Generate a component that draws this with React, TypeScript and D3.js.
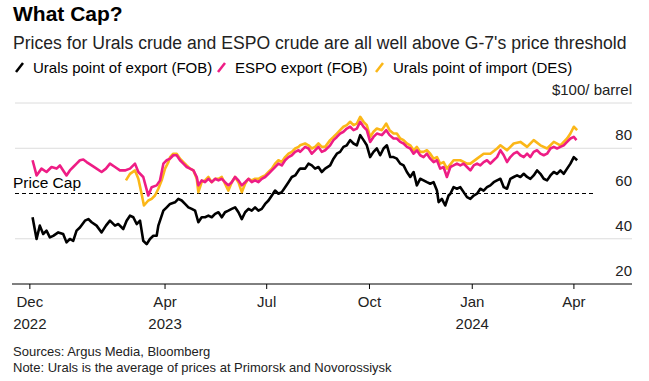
import React from "react";
import * as d3 from "d3";

// Days since 2022-12-01, price in $/barrel
const BASE_DATE = new Date(2022, 11, 1);

const uralsFOB: [number, number][] = [
  [2.4, 49.5], [6.0, 39.9], [8.9, 45.8], [11.9, 42.1], [14.9, 43.6], [17.9, 40.6], [20.9, 41.3],
  [25.4, 42.8], [29.8, 42.1], [32.8, 38.4], [35.8, 39.9], [38.8, 39.1], [41.8, 43.6], [44.8, 45.0],
  [49.3, 48.0], [52.3, 48.7], [55.3, 47.3], [59.7, 45.8], [64.2, 42.8], [68.1, 45.8], [71.7, 48.0],
  [76.2, 45.8], [79.2, 46.5], [83.6, 44.3], [86.6, 48.0], [89.6, 50.2], [92.6, 49.5], [95.6, 46.5],
  [98.6, 48.0], [101.5, 39.1], [104.5, 37.6], [107.5, 39.9], [110.5, 41.3], [113.5, 41.3], [115.0, 45.8],
  [119.5, 52.4], [122.5, 53.9], [125.5, 55.4], [129.9, 56.1], [132.9, 57.6], [135.9, 56.9],
  [138.9, 55.4], [141.9, 53.9], [144.9, 53.2], [147.9, 52.4], [150.8, 47.3], [153.8, 49.5], [156.8, 49.5],
  [159.8, 50.2], [162.8, 49.5], [165.8, 51.0], [168.8, 51.7], [171.8, 49.5], [174.7, 51.7], [177.7, 52.4],
  [180.7, 53.2], [183.7, 53.9], [186.7, 51.7], [189.7, 48.7], [192.7, 51.7], [195.7, 53.2], [198.6, 52.4],
  [201.6, 53.9], [204.6, 52.4], [207.6, 53.2], [210.6, 55.4], [213.6, 56.9], [216.6, 59.1], [219.5, 61.3],
  [222.5, 59.9], [225.5, 60.6], [228.5, 62.8], [231.5, 65.0], [234.5, 67.3], [237.5, 68.0], [240.5, 70.2],
  [241.9, 71.0], [246.4, 71.0], [249.4, 73.2], [252.4, 72.4], [255.3, 71.0], [258.3, 71.7], [261.3, 69.5],
  [264.3, 71.0], [268.8, 72.4], [271.8, 75.4], [274.8, 77.6], [277.7, 78.4], [280.7, 80.6], [283.7, 81.3],
  [286.7, 83.6], [289.7, 82.1], [292.7, 81.3], [295.7, 85.8], [298.7, 83.6], [301.6, 81.3], [304.6, 76.1],
  [307.6, 78.4], [310.6, 79.9], [313.6, 76.9], [316.6, 79.9], [319.6, 81.3], [322.6, 76.1], [325.5, 76.1],
  [328.5, 75.4], [331.5, 73.2], [334.5, 72.4], [337.5, 69.5], [340.5, 67.3], [343.5, 69.5], [346.4, 63.6],
  [349.4, 66.5], [352.4, 65.8], [355.4, 65.0], [358.4, 64.3], [361.4, 65.0], [364.4, 61.3], [365.9, 56.2],
  [368.8, 57.6], [371.8, 54.7], [374.8, 59.1], [376.4, 59.9], [379.3, 62.8], [382.3, 62.1], [385.3, 62.8],
  [388.3, 60.6], [391.3, 58.4], [394.3, 57.6], [397.3, 59.1], [400.3, 59.9], [403.2, 62.1], [406.2, 61.3],
  [409.2, 62.8], [412.2, 63.6], [415.2, 65.0], [418.2, 65.8], [421.2, 66.5], [424.2, 62.8], [427.1, 62.1],
  [430.1, 66.5], [433.1, 67.3], [436.1, 68.0], [439.1, 67.3], [442.1, 68.7], [445.1, 67.3], [448.0, 66.5],
  [451.0, 68.0], [454.0, 70.2], [457.0, 68.7], [460.0, 66.5], [463.0, 65.8], [466.0, 68.0], [469.0, 69.5],
  [471.9, 68.7], [474.9, 70.2], [477.9, 68.7], [480.9, 71.0], [483.9, 73.2], [486.9, 76.1], [489.9, 74.7],
];

const espoFOB: [number, number][] = [
  [2.4, 74.7], [6.0, 68.0], [10.4, 71.0], [14.9, 69.5], [19.4, 71.7], [23.9, 71.0], [26.9, 72.4],
  [29.8, 70.2], [32.8, 68.0], [35.8, 70.2], [38.8, 71.7], [41.8, 73.2], [44.8, 74.7], [47.8, 75.0],
  [50.8, 73.9], [55.3, 72.4], [59.7, 71.0], [64.2, 69.5], [68.1, 71.0], [71.7, 73.2], [76.2, 71.7],
  [80.6, 70.2], [85.1, 70.2], [89.6, 71.0], [94.1, 73.2], [97.1, 69.5], [101.5, 67.3], [106.0, 59.1],
  [109.0, 62.8], [113.5, 63.6], [116.5, 65.8], [119.5, 73.2], [122.5, 74.7], [125.5, 75.4], [128.4, 76.9],
  [131.4, 76.9], [134.4, 74.7], [137.4, 73.2], [140.4, 71.7], [143.4, 71.0], [146.4, 70.2], [149.4, 67.3],
  [150.8, 63.6], [153.8, 65.8], [156.8, 65.0], [159.8, 66.5], [162.8, 65.0], [165.8, 66.5], [168.8, 65.8],
  [171.8, 66.5], [174.7, 65.0], [177.7, 63.6], [180.7, 65.0], [183.7, 67.3], [186.7, 65.8], [189.7, 63.6],
  [192.7, 65.0], [195.7, 66.5], [198.6, 65.0], [201.6, 65.8], [204.6, 65.0], [207.6, 66.5], [210.6, 67.3],
  [213.6, 68.7], [216.6, 70.2], [219.5, 71.7], [222.5, 73.2], [225.5, 72.4], [228.5, 74.7], [231.5, 76.1],
  [234.5, 76.9], [237.5, 78.4], [240.5, 79.1], [241.9, 78.4], [246.4, 80.6], [249.4, 79.9], [252.4, 77.6],
  [255.3, 79.1], [258.3, 80.6], [261.3, 78.4], [264.3, 79.1], [268.8, 81.3], [271.8, 83.6], [274.8, 85.0],
  [277.7, 86.5], [280.7, 87.3], [283.7, 88.7], [286.7, 89.5], [289.7, 88.0], [292.7, 88.7], [295.7, 91.7],
  [298.7, 89.5], [301.6, 88.0], [304.6, 82.8], [307.6, 85.0], [310.6, 86.5], [315.1, 85.8], [319.0, 88.0],
  [322.0, 85.8], [325.5, 84.3], [328.5, 84.3], [331.5, 82.8], [334.5, 82.1], [337.5, 80.6], [340.5, 79.9],
  [343.5, 77.6], [346.4, 79.1], [349.4, 76.9], [352.4, 76.1], [355.4, 77.6], [358.4, 75.4], [361.4, 73.9],
  [364.4, 74.7], [367.3, 71.0], [370.3, 71.7], [373.3, 67.3], [376.4, 71.7], [379.3, 72.4], [382.3, 73.2],
  [385.3, 72.4], [388.3, 73.2], [391.3, 71.7], [394.3, 70.2], [397.3, 72.4], [400.3, 73.2], [403.2, 72.4],
  [406.2, 73.9], [409.2, 74.7], [412.2, 73.2], [415.2, 74.7], [418.2, 76.1], [421.2, 79.1], [424.2, 76.9],
  [427.1, 73.9], [430.1, 76.1], [433.1, 77.6], [436.1, 78.4], [439.1, 76.9], [442.1, 76.1], [445.1, 77.6],
  [448.0, 76.1], [451.0, 78.4], [454.0, 79.1], [457.0, 77.6], [460.0, 76.9], [463.0, 77.6], [466.0, 79.9],
  [469.0, 80.6], [471.9, 79.9], [474.9, 80.6], [477.9, 81.3], [480.9, 82.8], [483.9, 84.3], [486.9, 85.0],
  [489.3, 83.6],
];

const uralsDES: [number, number][] = [
  [86.0, 65.8], [89.6, 68.7], [94.1, 70.2], [97.1, 66.5], [100.0, 59.9], [102.1, 54.7], [106.0, 56.9],
  [109.0, 57.6], [112.0, 59.1], [115.0, 62.1], [118.0, 65.8], [121.0, 71.0], [124.0, 73.9], [125.5, 76.1],
  [128.4, 77.6], [131.4, 77.6], [134.4, 75.4], [137.4, 73.9], [140.4, 72.4], [143.4, 71.0], [146.4, 70.2],
  [149.4, 66.5], [150.8, 60.6], [153.8, 65.0], [156.8, 65.8], [159.8, 67.3], [162.8, 65.0], [165.8, 66.5],
  [168.8, 66.5], [171.8, 67.3], [174.7, 64.3], [177.7, 61.3], [180.7, 65.0], [183.7, 67.3], [186.7, 65.0],
  [189.7, 60.6], [192.7, 64.3], [195.7, 66.5], [198.6, 65.8], [201.6, 66.5], [204.6, 66.5], [207.6, 67.3],
  [210.6, 68.0], [213.6, 69.5], [216.6, 71.0], [219.5, 73.2], [222.5, 74.7], [225.5, 73.9], [228.5, 76.1],
  [231.5, 77.6], [234.5, 78.4], [237.5, 79.9], [240.5, 80.6], [241.9, 81.3], [246.4, 82.1], [249.4, 81.3],
  [252.4, 79.9], [255.3, 80.6], [258.3, 82.1], [261.3, 80.6], [264.3, 80.6], [268.8, 83.6], [271.8, 85.0],
  [274.8, 86.5], [277.7, 88.0], [280.7, 89.5], [283.7, 90.2], [286.7, 91.7], [289.7, 90.2], [292.7, 90.9],
  [295.7, 93.9], [298.7, 91.7], [301.6, 90.2], [304.6, 85.0], [307.6, 87.3], [310.6, 88.7], [315.1, 88.0],
  [319.0, 90.9], [322.0, 88.0], [325.5, 86.5], [328.5, 86.5], [331.5, 84.3], [334.5, 83.6], [337.5, 82.1],
  [340.5, 81.3], [343.5, 79.1], [346.4, 80.6], [349.4, 78.4], [352.4, 78.4], [355.4, 79.1], [358.4, 77.6],
  [361.4, 75.4], [364.4, 76.1], [367.3, 73.2], [370.3, 73.9], [373.4, 71.0], [379.3, 74.7], [385.3, 74.7],
  [391.3, 73.2], [394.3, 73.2], [400.3, 75.4], [406.2, 77.6], [412.2, 77.6], [418.2, 79.9], [421.2, 81.3],
  [427.1, 79.1], [433.1, 82.1], [439.1, 82.8], [445.1, 80.6], [451.0, 83.6], [457.0, 81.3], [463.0, 79.9],
  [469.0, 82.8], [474.9, 81.3], [480.9, 84.3], [483.9, 86.5], [486.9, 89.5], [489.9, 88.0],
];

const PRICE_CAP = 60;
const yTicks = [20, 40, 60, 80];
const yTopLabel = "$100/ barrel";
const xTicks: { date: Date; month: string; year: string }[] = [
  { date: new Date(2022, 11, 1), month: "Dec", year: "2022" },
  { date: new Date(2023, 3, 1), month: "Apr", year: "2023" },
  { date: new Date(2023, 6, 1), month: "Jul", year: "" },
  { date: new Date(2023, 9, 1), month: "Oct", year: "" },
  { date: new Date(2024, 0, 1), month: "Jan", year: "2024" },
  { date: new Date(2024, 3, 1), month: "Apr", year: "" },
];

const seriesNames = ["Urals point of export (FOB)", "ESPO export (FOB)", "Urals point of import (DES)"];
const seriesColors = ["#000000", "#ee1d85", "#fbb718"];

const FONT = "'Liberation Sans', Arial, Helvetica, sans-serif";

export default function App() {
  const W = 649;
  const H = 381;
  const toDate = (d: number) => new Date(BASE_DATE.getTime() + d * 864e5);
  const x = d3.scaleTime().domain([new Date(2022, 10, 15), new Date(2024, 4, 23)]).range([12, 632]);
  const y = d3.scaleLinear().domain([20, 100]).range([284, 103]);
  const line = d3
    .line<[number, number]>()
    .x((p) => x(toDate(p[0])))
    .y((p) => y(p[1]));

  const gridLeft = 15;
  const gridRight = 632;
  const seriesData = [uralsFOB, espoFOB, uralsDES];
  const drawOrder = [2, 1, 0];
  const legendX = [16, 218, 376];

  return (
    <svg width={W} height={H} style={{ position: "absolute", left: 0, top: 0, background: "#fff" }} fontFamily={FONT}>
      <rect width={W} height={H} fill="#fff" />
      <text x={13} y={21} fontSize={21} fontWeight="bold" fill="#000">What Cap?</text>
      <text x={13} y={49} fontSize={17.6} fill="#222">
        Prices for Urals crude and ESPO crude are all well above G-7's price threshold
      </text>
      {seriesNames.map((n, i) => (
        <g key={n}>
          <line x1={legendX[i]} y1={72} x2={legendX[i] + 7} y2={63} stroke={seriesColors[i]} strokeWidth={2.5} />
          <text x={legendX[i] + 17} y={73} fontSize={15} fill="#000">{n}</text>
        </g>
      ))}
      <text x={gridRight} y={y(100) - 8} fontSize={15} textAnchor="end" fill="#222">{yTopLabel}</text>
      {[100, 80, 40].map((v) => (
        <line key={v} x1={gridLeft} x2={gridRight} y1={y(v)} y2={y(v)} stroke="#dcdcdc" strokeWidth={1} />
      ))}
      {yTicks.map((v) => (
        <text key={v} x={gridRight} y={y(v) - 8} fontSize={15} textAnchor="end" fill="#222">{v}</text>
      ))}
      <line x1={gridLeft} x2={595} y1={y(PRICE_CAP)} y2={y(PRICE_CAP)} stroke="#000" strokeWidth={1.2} strokeDasharray="4,3" />
      <text x={13} y={y(PRICE_CAP) - 6} fontSize={15.5} fill="#000">Price Cap</text>
      {drawOrder.map((i) => (
        <path key={i} d={line(seriesData[i]) || ""} fill="none" stroke={seriesColors[i]} strokeWidth={2.6} strokeLinejoin="round" />
      ))}
      <line x1={12} x2={gridRight} y1={284} y2={284} stroke="#000" strokeWidth={1} />
      {xTicks.map((t, i) => (
        <g key={i} transform={`translate(${x(t.date)},0)`}>
          <line y1={284} y2={289} stroke="#000" />
          <text y={307} fontSize={15} textAnchor="middle" fill="#222">{t.month}</text>
          {t.year && <text y={329} fontSize={15} textAnchor="middle" fill="#222">{t.year}</text>}
        </g>
      ))}
      <text x={13} y={356} fontSize={13} fill="#222">Sources: Argus Media, Bloomberg</text>
      <text x={13} y={372} fontSize={13} fill="#222">Note: Urals is the average of prices at Primorsk and Novorossiysk</text>
    </svg>
  );
}
